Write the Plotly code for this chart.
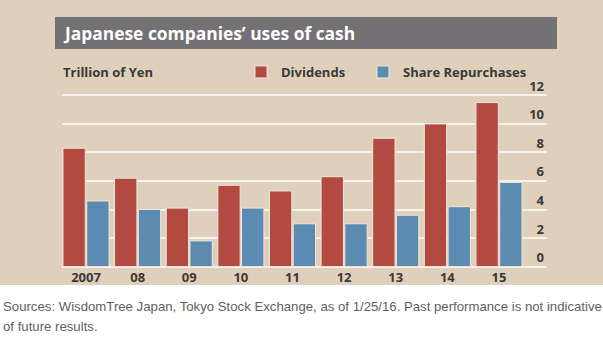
import plotly.graph_objects as go

# ---- data ----
years = ["2007", "08", "09", "10", "11", "12", "13", "14", "15"]
dividends = [8.3, 6.2, 4.1, 5.7, 5.3, 6.3, 9.0, 10.0, 11.5]
repurchases = [4.6, 4.0, 1.8, 4.1, 3.0, 3.0, 3.6, 4.2, 5.9]
y_ticks = [0, 2, 4, 6, 8, 10, 12]

title_text = "Japanese companies’ uses of cash"
unit_text = "Trillion of Yen"
source_line1 = "Sources: WisdomTree Japan, Tokyo Stock Exchange, as of 1/25/16. Past performance is not indicative"
source_line2 = "of future results."

# ---- styling ----
W, H = 603, 343
ML, MR, MT, MB = 62, 56, 94, 75
PW, PH = W - ML - MR, H - MT - MB

BEIGE = "#dfd0bc"
RED = "#b34a42"
BLUE = "#5b8bb1"
GREY_BAR = "#737174"
TXT = "#3b3936"
FONT = "Open Sans"


def px(x):
    return (x - ML) / PW


def py(y):
    return (H - MB - y) / PH


fig = go.Figure()
fig.add_trace(go.Bar(x=years, y=dividends, name="Dividends", legend="legend",
                     marker=dict(color=RED, line=dict(color="#f1e6da", width=1))))
fig.add_trace(go.Bar(x=years, y=repurchases, name="Share Repurchases", legend="legend2",
                     marker=dict(color=BLUE, line=dict(color="#f1e6da", width=1))))

legend_style = dict(orientation="h", y=py(72), xanchor="left", yanchor="middle",
                    bgcolor="rgba(0,0,0,0)",
                    font=dict(family=FONT, size=13, color=TXT, weight="bold"),
                    itemclick=False, itemdoubleclick=False)

fig.update_layout(
    width=W, height=H,
    margin=dict(l=ML, r=MR, t=MT, b=MB, pad=0),
    paper_bgcolor="white",
    plot_bgcolor="rgba(0,0,0,0)",
    barmode="group",
    bargap=0.08,
    bargroupgap=0.06,
    font=dict(family=FONT, size=13, color=TXT),
    showlegend=True,
    legend=dict(x=px(241), **legend_style),
    legend2=dict(x=px(363), **legend_style),
    xaxis=dict(type="category", range=[-0.465, 8.93], showgrid=False, zeroline=False,
               showline=False, ticks="", tickfont=dict(family=FONT, size=13, color=TXT, weight="bold"),
               fixedrange=True),
    yaxis=dict(side="right", range=[-0.1, 12.1], tickvals=y_ticks, showgrid=True,
               gridcolor="#f7f2ec", gridwidth=2, zeroline=False, showline=False, ticks="",
               ticklabelposition="inside top", ticklabeloverflow="allow",
               tickfont=dict(family=FONT, size=13, color=TXT, weight="bold"), fixedrange=True),
    shapes=[
        dict(type="rect", xref="paper", yref="paper", x0=px(0), x1=px(W), y0=py(285), y1=py(0),
             fillcolor=BEIGE, line=dict(width=0), layer="below"),
        dict(type="rect", xref="paper", yref="paper", x0=px(55), x1=px(557), y0=py(49), y1=py(17),
             fillcolor=GREY_BAR, line=dict(width=0), layer="below"),
    ],
    annotations=[
        dict(text=title_text, xref="paper", yref="paper", x=px(61), y=py(33), xanchor="left",
             yanchor="middle", showarrow=False,
             font=dict(family=FONT, size=17.4, color="white", weight="bold")),
        dict(text=unit_text, xref="paper", yref="paper", x=px(61), y=py(72), xanchor="left",
             yanchor="middle", showarrow=False,
             font=dict(family=FONT, size=13, color=TXT, weight="bold")),
        dict(text=source_line1, xref="paper", yref="paper", x=px(1), y=py(306), xanchor="left",
             yanchor="middle", showarrow=False,
             font=dict(family="Liberation Sans", size=13.2, color="#606060")),
        dict(text=source_line2, xref="paper", yref="paper", x=px(1), y=py(326), xanchor="left",
             yanchor="middle", showarrow=False,
             font=dict(family="Liberation Sans", size=13.2, color="#606060")),
    ],
)

fig.write_html("out.html", config=dict(displayModeBar=False))
